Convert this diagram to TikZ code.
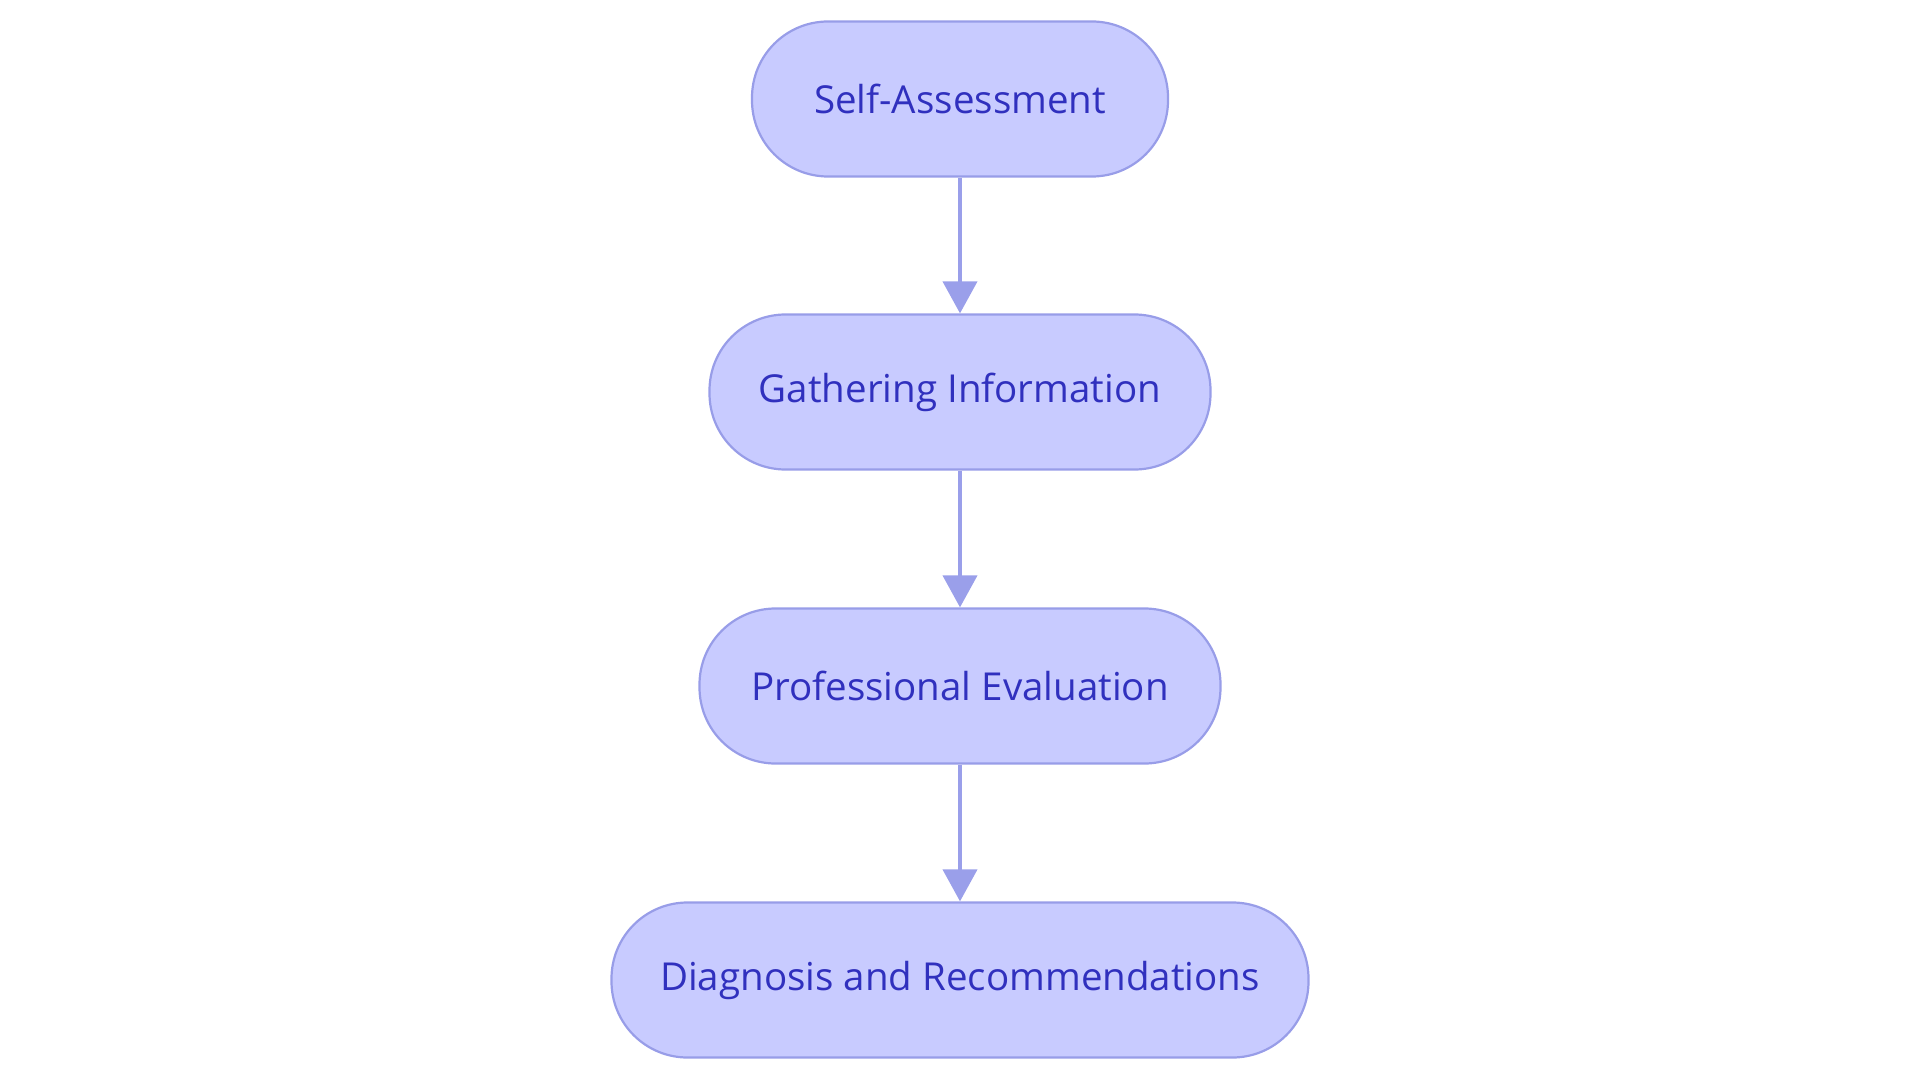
\documentclass[tikz,border=0pt]{standalone}
\usepackage{fontspec}
\setmainfont{Open Sans}
\usetikzlibrary{arrows.meta}
\definecolor{boxfill}{RGB}{200,203,255}
\definecolor{boxline}{RGB}{152,157,232}
\definecolor{arrowcol}{RGB}{154,159,234}
\definecolor{txtcol}{RGB}{48,48,190}
\tikzset{
  stepbox/.style={draw=boxline, fill=boxfill, line width=2.2pt, rounded corners=76pt,
    minimum height=155pt, inner sep=0pt, text=txtcol,
    font=\fontsize{38.5}{42}\selectfont},
  flow/.style={draw=arrowcol, line width=4pt, -{Triangle[width=34pt,length=32pt]}}
}
\begin{document}
\begin{tikzpicture}[x=1pt,y=-1pt]
\useasboundingbox (0,0) rectangle (1920,1083);
\node[stepbox, minimum width=416pt] (a) at (960,99) {Self-Assessment};
\node[stepbox, minimum width=501pt] (b) at (960,392) {Gathering Information};
\node[stepbox, minimum width=521pt] (c) at (960,686) {Professional Evaluation};
\node[stepbox, minimum width=697pt] (d) at (960,980) {Diagnosis and Recommendations};
\draw[flow] (a) -- (b);
\draw[flow] (b) -- (c);
\draw[flow] (c) -- (d);
\end{tikzpicture}
\end{document}
